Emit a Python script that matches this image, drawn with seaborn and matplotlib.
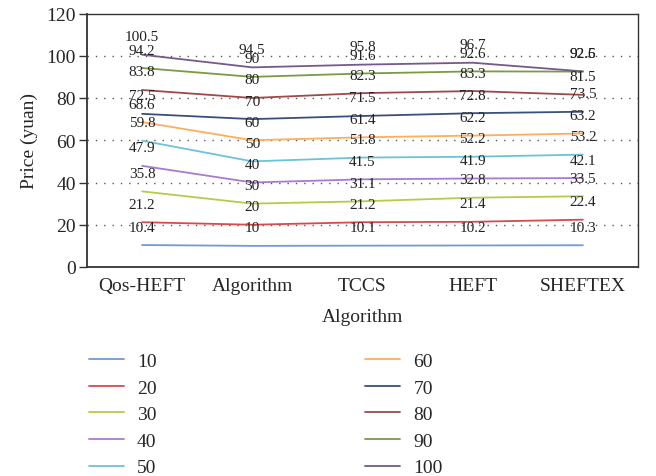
import matplotlib
matplotlib.use("Agg")
import matplotlib.pyplot as plt
import seaborn as sns
import pandas as pd

categories = ["Qos-HEFT", "Algorithm", "TCCS", "HEFT", "SHEFTEX"]
series_names = ["10", "20", "30", "40", "50", "60", "70", "80", "90", "100"]
s10 = [10.4, 10, 10.1, 10.2, 10.3]
s20 = [21.2, 20, 21.2, 21.4, 22.4]
s30 = [35.8, 30, 31.1, 32.8, 33.5]
s40 = [47.9, 40, 41.5, 41.9, 42.1]
s50 = [59.8, 50, 51.8, 52.2, 53.2]
s60 = [68.6, 60, 61.4, 62.2, 63.2]
s70 = [72.5, 70, 71.5, 72.8, 73.5]
s80 = [83.8, 80, 82.3, 83.3, 81.5]
s90 = [94.2, 90, 91.6, 92.6, 92.5]
s100 = [100.5, 94.5, 95.8, 96.7, 92.6]
all_series = [s10, s20, s30, s40, s50, s60, s70, s80, s90, s100]
colors = ["#6f9ad8", "#d64b4b", "#b5cc4a", "#a77bd0", "#6cc2d8",
          "#ffad5a", "#3a4f7a", "#a04848", "#7a9a44", "#735a8a"]

rows = []
for name, vals in zip(series_names, all_series):
    for c, v in zip(categories, vals):
        rows.append({"Algorithm": c, "Price": v, "Series": name})
df = pd.DataFrame(rows)

sns.set_theme(style="white")
plt.rcParams["font.family"] = ["Liberation Serif", "DejaVu Serif"]

fig = plt.figure(figsize=(6.56, 4.77), dpi=100)
ax = fig.add_axes([87/656, 1 - 268/477, (638-87)/656, (268-14.5)/477])

sns.lineplot(data=df, x="Algorithm", y="Price", hue="Series",
             hue_order=series_names, palette=colors, linewidth=1.3,
             sort=False, ax=ax, legend=True)

for name, vals in zip(series_names, all_series):
    for i, v in enumerate(vals):
        ax.annotate(f"{v:g}", (i, v), xytext=(0, 18), textcoords="offset pixels",
                    ha="center", va="center", fontsize=11, color="#222222")

ax.set_xlim(-0.5, 4.5)
ax.set_ylim(0, 120)
ax.set_yticks([0, 20, 40, 60, 80, 100, 120])
for y in [20, 40, 60, 80, 100]:
    ax.axhline(y, color="#555555", linestyle=(0, (1, 5)), linewidth=1.0, zorder=0)

for sp in ax.spines.values():
    sp.set_visible(True)
    sp.set_color("#333333")
    sp.set_linewidth(1.0)
ax.spines["left"].set_linewidth(1.3)
ax.spines["bottom"].set_linewidth(1.3)
ax.tick_params(axis="y", which="both", left=True, length=6, width=1, color="#333333",
               labelsize=14, pad=2)
ax.tick_params(axis="x", bottom=False, labelsize=14, pad=1)
ax.set_xlabel("Algorithm", fontsize=14, labelpad=10)
ax.set_ylabel("Price (yuan)", fontsize=14, labelpad=6)

handles, labels = ax.get_legend_handles_labels()
ax.legend(handles, labels, loc="upper left", bbox_to_anchor=(71/656, 1 - 336/477),
          bbox_transform=fig.transFigure, ncol=2, frameon=False, fontsize=14,
          handlelength=1.8, handletextpad=0.7, columnspacing=10.7,
          labelspacing=0.46)

fig.savefig("out.png", dpi=100)
